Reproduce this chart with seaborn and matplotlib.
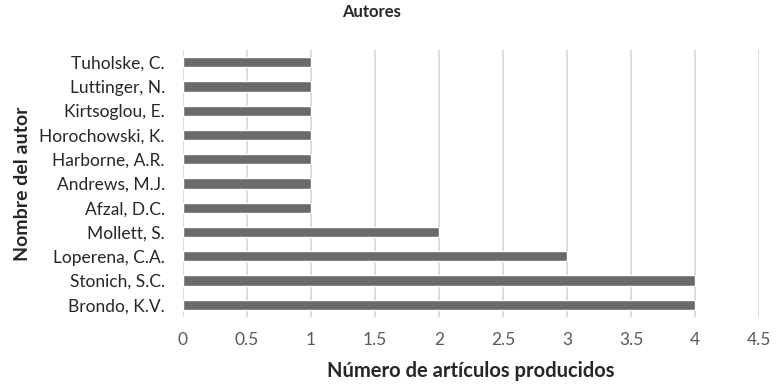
import matplotlib
matplotlib.use("Agg")
import pandas as pd
import seaborn as sns
import matplotlib.pyplot as plt

autores = ["Tuholske, C.", "Luttinger, N.", "Kirtsoglou, E.", "Horochowski, K.",
           "Harborne, A.R.", "Andrews, M.J.", "Afzal, D.C.", "Mollett, S.",
           "Loperena, C.A.", "Stonich, S.C.", "Brondo, K.V."]
articulos = [1, 1, 1, 1, 1, 1, 1, 2, 3, 4, 4]
xticks = [0, 0.5, 1, 1.5, 2, 2.5, 3, 3.5, 4, 4.5]
xtick_labels = ["0", "0.5", "1", "1.5", "2", "2.5", "3", "3.5", "4", "4.5"]

df = pd.DataFrame({"autor": autores, "n": articulos})

sns.set_style("white")
plt.rcParams["font.family"] = ["Lato", "DejaVu Sans"]

fig = plt.figure(figsize=(7.8, 3.87), dpi=100)
ax = fig.add_axes([183 / 780, 1 - 317 / 387, (759 - 183) / 780, (317 - 50) / 387])

sns.barplot(data=df, x="n", y="autor", orient="h", color="#6a6a6a",
            width=0.42, saturation=1, ax=ax)

ax.set_xlim(0, 4.5)
ax.set_ylim(10.5, -0.5)
ax.set_xticks(xticks)
ax.set_xticklabels(xtick_labels, color="#595959", fontsize=12.5)
ax.tick_params(axis="y", labelsize=12.5, labelcolor="#262626", length=0, pad=13)
ax.tick_params(axis="x", length=0, pad=11)
ax.grid(axis="x", color="#d9d9d9", linewidth=1.3)
ax.set_axisbelow(True)
for s in ax.spines.values():
    s.set_visible(False)

ax.set_xlabel("Número de artículos producidos", fontsize=14.5, fontweight="bold",
              color="#262626", labelpad=9)
ax.set_ylabel("Nombre del autor", fontsize=14, fontweight="bold",
              color="#262626", labelpad=6)
fig.text(372 / 780, 1 - 12 / 387, "Autores", ha="center", va="center",
         fontsize=12, fontweight="bold", color="#262626")

fig.savefig("out.png", dpi=100)
